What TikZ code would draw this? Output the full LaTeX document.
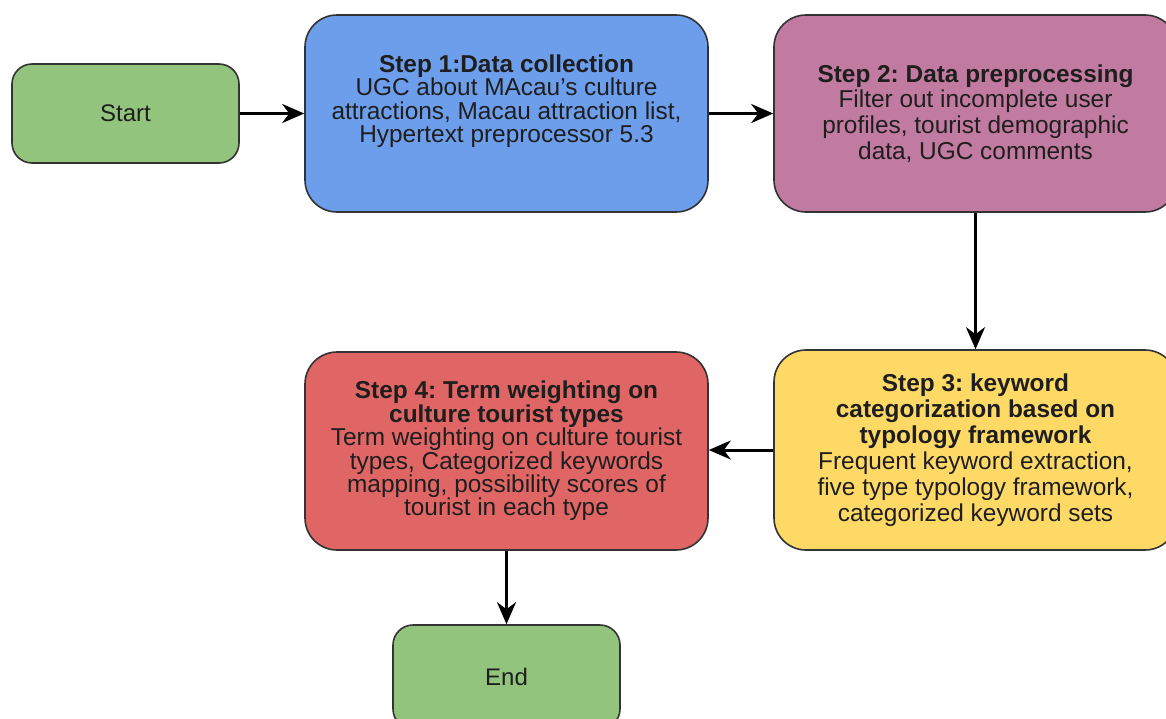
\documentclass[tikz,border=0pt]{standalone}
\usepackage{fontspec}
\setmainfont{Liberation Sans}
\usetikzlibrary{arrows.meta}
\definecolor{cgreen}{HTML}{93C47D}
\definecolor{cblue}{HTML}{6D9EEB}
\definecolor{cmauve}{HTML}{C27BA0}
\definecolor{cyellow}{HTML}{FFD966}
\definecolor{cred}{HTML}{E06666}
\definecolor{cborder}{HTML}{333333}
\definecolor{ctext}{HTML}{1E1E1E}
\frenchspacing
\begin{document}
\begin{tikzpicture}[x=0.5pt,y=-0.5pt,
  box/.style={draw=cborder, line width=0.8pt, rounded corners=16pt, align=center,
    text=ctext, inner sep=0pt},
  small/.style={rounded corners=10pt, minimum width=113.5pt},
  big/.style={minimum width=201.5pt},
  arr/.style={-{Stealth[length=11pt,width=9.5pt,inset=3.5pt]}, line width=1.5pt}]
\path[use as bounding box, clip] (0,0) rectangle (1166,718);
\node[box, small, fill=cgreen, minimum height=49.5pt, font=\fontsize{12}{12}\selectfont] (start) at (125.5,113.5) {Start};
\node[box, big, fill=cblue, minimum height=98.5pt, font=\fontsize{12.2}{11.7}\selectfont] (step1) at (506.5,113.5)
  {\textbf{Step 1:Data collection}\\UGC about MAcau’s culture\\attractions, Macau attraction list,\\Hypertext preprocessor 5.3\\[3pt]\mbox{}};
\node[box, big, fill=cmauve, minimum height=98.5pt, font=\fontsize{12.2}{12.8}\selectfont] (step2) at (975.5,113.5)
  {\textbf{Step 2: Data preprocessing}\\Filter out incomplete user\\profiles, tourist demographic\\data, UGC comments};
\node[box, big, fill=cyellow, minimum height=100pt, font=\fontsize{12.2}{13}\selectfont] (step3) at (975.5,450)
  {\textbf{Step 3: keyword}\\\textbf{categorization based on}\\\textbf{typology framework}\\Frequent keyword extraction,\\five type typology framework,\\categorized keyword sets};
\node[box, big, fill=cred, minimum height=99pt, font=\fontsize{12.2}{11.7}\selectfont] (step4) at (506.5,451)
  {\textbf{Step 4: Term weighting on}\\\textbf{culture tourist types}\\Term weighting on culture tourist\\types, Categorized keywords\\mapping, possibility scores of\\tourist in each type};
\node[box, small, fill=cgreen, minimum height=52pt, font=\fontsize{12}{12}\selectfont] (end) at (506.5,677) {End};
\draw[arr] (start) -- (step1);
\draw[arr] (step1) -- (step2);
\draw[arr] (step2) -- (step3);
\draw[arr] (step3.west) -- (step4.east |- step3.west);
\draw[arr] (step4) -- (end);
\end{tikzpicture}
\end{document}
